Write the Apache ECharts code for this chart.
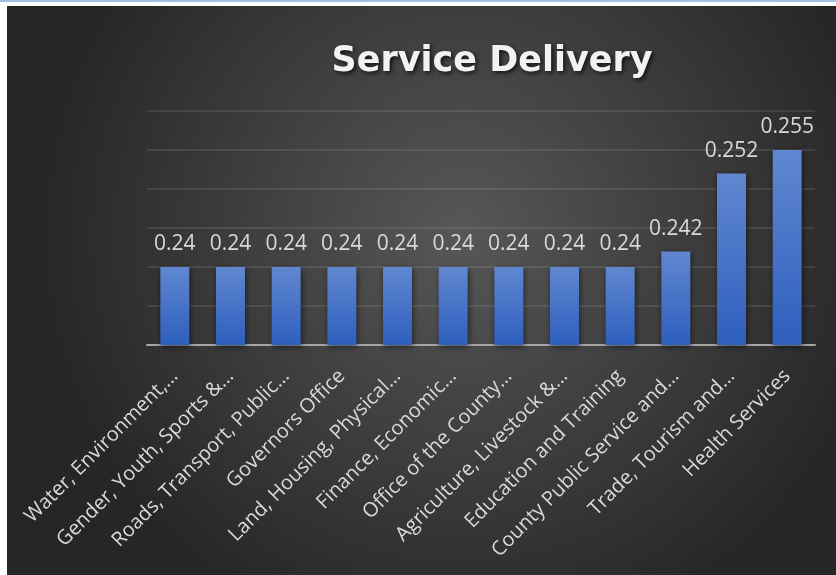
<!DOCTYPE html>
<html>
<head>
<meta charset="utf-8">
<script src="https://cdn.jsdelivr.net/npm/echarts@6/dist/echarts.min.js"></script>
<style>
html,body{margin:0;padding:0;background:#fff;width:836px;height:575px;overflow:hidden}
#topline{position:absolute;left:0;top:0;width:836px;height:2px;background:#9dc3e6}
#chart{position:absolute;left:7px;top:6px;width:829px;height:569px}
</style>
</head>
<body>
<div id="topline"></div>
<div id="chart"></div>
<script>
// departments as shown on the axis (already cut short in the source)
var departments=['Water, Environment,…','Gender, Youth, Sports &…','Roads, Transport, Public…','Governors Office','Land, Housing, Physical…','Finance, Economic…','Office of the County…','Agriculture, Livestock &…','Education and Training','County Public Service and…','Trade, Tourism and…','Health Services'];
var scores=[0.24,0.24,0.24,0.24,0.24,0.24,0.24,0.24,0.24,0.242,0.252,0.255];
var yMin=0.23, yMax=0.26, yStep=0.005;

var c=echarts.init(document.getElementById('chart'));
c.setOption({
 backgroundColor:{type:'radial',x:0.55,y:0.4,r:0.75,colorStops:[{offset:0,color:'#575757'},{offset:1,color:'#262626'}]},
 title:{text:'Service Delivery',left:480,top:33,textAlign:'center',
  textStyle:{color:'#f2f2f2',fontSize:35,fontWeight:'bold',fontFamily:'DejaVu Sans',
   textShadowColor:'rgba(0,0,0,0.7)',textShadowBlur:4,textShadowOffsetX:2,textShadowOffsetY:2}},
 grid:{left:140,right:21,top:105,bottom:230},
 xAxis:{type:'category',data:departments,
  axisLine:{lineStyle:{color:'#a6a6a6',width:2}},
  axisTick:{show:false},
  axisLabel:{rotate:45,interval:0,color:'#d9d9d9',fontSize:20,fontFamily:'Open Sans',margin:28}},
 yAxis:{type:'value',min:yMin,max:yMax,interval:yStep,
  axisLabel:{show:false},axisLine:{show:false},axisTick:{show:false},
  splitLine:{lineStyle:{color:'rgba(255,255,255,0.13)',width:1.5}}},
 series:[{type:'bar',data:scores,barWidth:'52%',
  itemStyle:{color:{type:'linear',x:0,y:0,x2:0,y2:1,colorStops:[{offset:0,color:'#6087d0'},{offset:1,color:'#2e5fbe'}]},
   shadowColor:'rgba(0,0,0,0.55)',shadowBlur:6,shadowOffsetX:1,shadowOffsetY:2},
  label:{show:true,position:'top',distance:12,color:'#d9d9d9',fontSize:21,fontFamily:'Open Sans'}}]
});
</script>
</body>
</html>
